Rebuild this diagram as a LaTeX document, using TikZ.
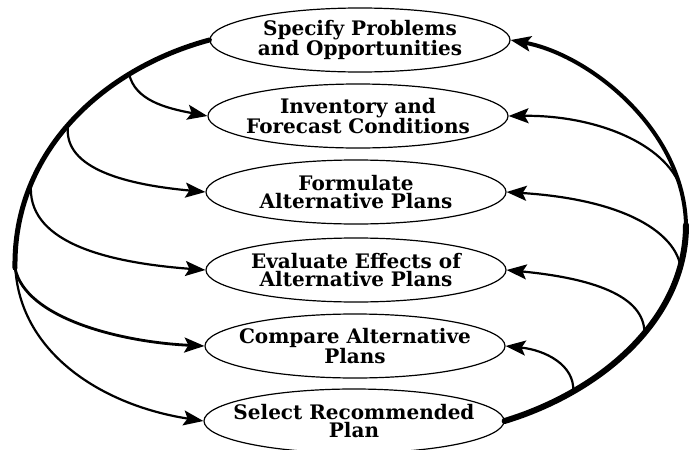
\documentclass[tikz,border=0pt]{standalone}
\usepackage{fontspec}
\setmainfont{DejaVu Serif}
\usetikzlibrary{arrows.meta,shapes.geometric}
\begin{document}
\begin{tikzpicture}[x=1pt,y=-1pt,
  stage/.style={draw,ellipse,line width=1.2pt,minimum width=300pt,minimum height=64pt,inner sep=0pt},
  lbl/.style={font=\bfseries\fontsize{20}{18.5}\selectfont,align=center},
  mainarc/.style={line width=5pt,line cap=round},
  branch/.style={line width=2.2pt,-{Stealth[length=20pt,width=15pt,inset=4pt]}},
  tiparc/.style={line width=4pt,-{Stealth[length=20pt,width=15pt,inset=4pt]}}]
\useasboundingbox (0,0) rectangle (689,450);
\node[stage,label={[lbl]center:{Specify Problems\\and Opportunities}}] (e1) at (360,40) {};
\node[stage,label={[lbl]center:{Inventory and\\Forecast Conditions}}] (e2) at (358,116) {};
\node[stage,label={[lbl]center:{Formulate\\Alternative Plans}}] (e3) at (356,192) {};
\node[stage,label={[lbl]center:{Evaluate Effects of\\Alternative Plans}}] (e4) at (356,270) {};
\node[stage,label={[lbl]center:{Compare Alternative\\Plans}}] (e5) at (355,346) {};
\node[stage,label={[lbl]center:{Select Recommended\\Plan}}] (e6) at (354,421) {};
% left main arc
\draw[mainarc] (e1.west) .. controls (105,68) and (13,150) .. (15,268)
  coordinate[pos=0.27] (l2) coordinate[pos=0.52] (l3) coordinate[pos=0.74] (l4)
  coordinate[pos=1] (l5) coordinate[pos=0.97] (l6);
\draw[branch] (l2) .. controls (135,100) and (165,108) .. (e2.west);
\draw[branch] (l3) .. controls (62,170) and (130,185) .. (e3.west);
\draw[branch] (l4) .. controls (26,240) and (100,262) .. (e4.west);
\draw[branch,line width=2.8pt] (l5) .. controls (25,318) and (120,342) .. (e5.west);
\draw[branch] (l6) .. controls (14,350) and (100,405) .. (e6.west);
% right main arc
\coordinate (R) at (686,225);
\draw[line width=6pt,line cap=round] (e6.east) .. controls (600,392) and (686,320) .. (R)
  coordinate[pos=0.25] (r5) coordinate[pos=0.57] (r4) coordinate[pos=0.85] (r3);
\draw[tiparc] (R) .. controls (684,130) and (590,55) .. (e1.east)
  coordinate[pos=0.15] (r2);
\draw[branch] (r2) .. controls (660,140) and (590,115) .. (e2.east);
\draw[branch] (r3) .. controls (675,235) and (630,200) .. (e3.east);
\draw[branch] (r4) .. controls (645,295) and (590,278) .. (e4.east);
\draw[branch] (r5) .. controls (575,365) and (545,350) .. (e5.east);
\end{tikzpicture}
\end{document}
